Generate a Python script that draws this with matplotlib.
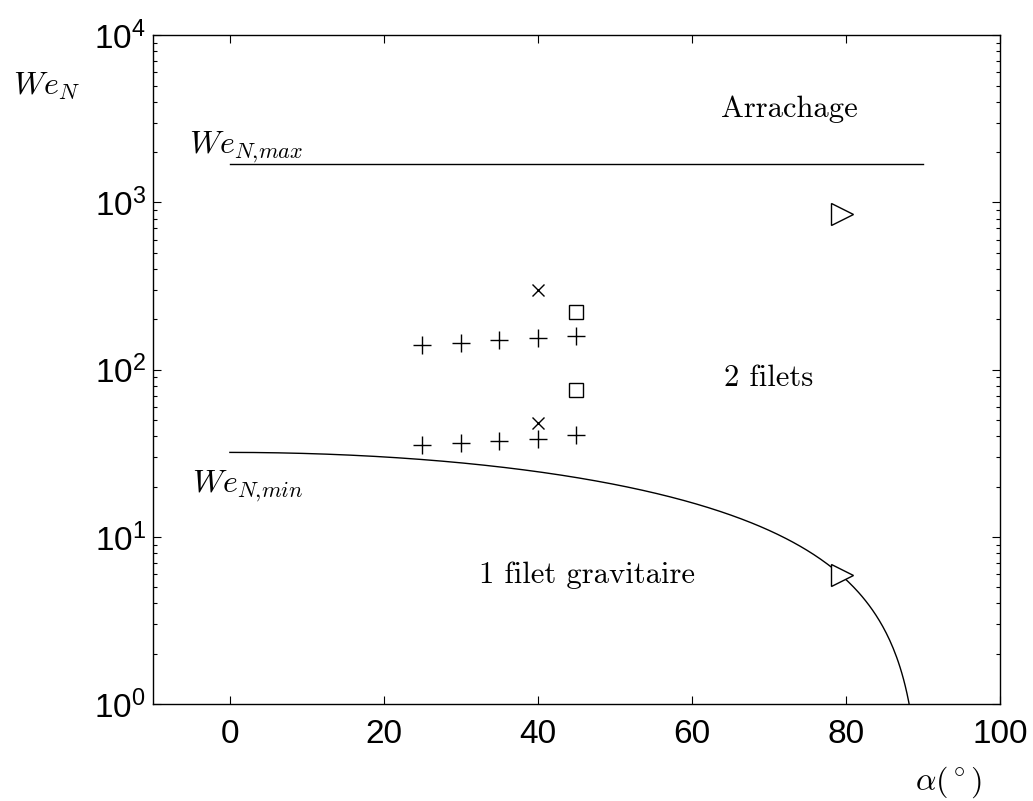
import numpy as np
import matplotlib
matplotlib.use("Agg")
import matplotlib.pyplot as plt
from matplotlib.ticker import LogLocator, NullFormatter, FixedLocator

plt.rcParams["font.family"] = ["Liberation Sans", "DejaVu Sans"]
plt.rcParams["mathtext.fontset"] = "cm"

# Measured regime boundaries and experimental points
alpha_plus = [25, 30, 35, 40, 45]
we_plus_high = [140, 144, 150, 155, 159]
we_plus_low = [35.4, 36.5, 37.5, 38.4, 40.6]

alpha_cross = [40, 40]
we_cross = [299, 48]

alpha_square = [45, 45]
we_square = [222, 75.4]

alpha_tri = [79.5, 79.5]
we_tri = [851, 5.9]

we_max = 1700          # upper limit (tearing off)
we_max_alpha = [0, 90]
we_min0 = 32           # lower limit at alpha = 0, scaled by cos(alpha)

x_ticks = [0, 20, 40, 60, 80, 100]

fig = plt.figure(figsize=(10.33, 8.01), dpi=100)
ax = fig.add_axes([0.148, 0.121, 0.820, 0.835])

# Boundaries
ax.plot(we_max_alpha, [we_max, we_max], color="black", lw=1.0)
alpha_curve = np.linspace(0, 89.5, 400)
ax.plot(alpha_curve, we_min0 * np.cos(np.radians(alpha_curve)), color="black", lw=1.0)

# Data points
mk = dict(linestyle="none", color="black", markerfacecolor="white")
ax.plot(alpha_plus, we_plus_high, marker="+", markersize=13, mew=1.0, **mk)
ax.plot(alpha_plus, we_plus_low, marker="+", markersize=13, mew=1.0, **mk)
ax.plot(alpha_cross, we_cross, marker="x", markersize=8.5, mew=1.0, **mk)
ax.plot(alpha_square, we_square, marker="s", markersize=9.5, mew=1.0, **mk)
ax.plot(alpha_tri, we_tri, marker=">", markersize=16, mew=1.0, **mk)

ax.set_yscale("log")
ax.set_xlim(-10, 100)
ax.set_ylim(1, 1e4)
ax.xaxis.set_major_locator(FixedLocator(x_ticks))
ax.yaxis.set_major_locator(LogLocator(base=10, numticks=10))
ax.yaxis.set_minor_locator(LogLocator(base=10, subs=np.arange(2, 10), numticks=20))
ax.yaxis.set_minor_formatter(NullFormatter())

ax.tick_params(which="both", direction="in", top=True, right=True,
               labelsize=24, width=0.8)
ax.tick_params(which="major", length=6)
ax.tick_params(which="minor", length=3)
ax.tick_params(axis="x", which="major", pad=11)
ax.tick_params(axis="y", which="major", pad=5)
for s in ax.spines.values():
    s.set_linewidth(1.0)

# Region labels
serif = dict(family="cmr10", fontsize=22, ha="center", va="baseline")
ax.text(72.7, 3235, "Arrachage", **serif)
ax.text(69.9, 79.7, "2 filets", **serif)
ax.text(46.4, 5.29, "1 filet gravitaire", **serif)

ax.text(-5.3, 1969, r"$We_{N{,}max}$", fontsize=23, ha="left", va="baseline")
ax.text(-4.9, 18.5, r"$We_{N{,}min}$", fontsize=23, ha="left", va="baseline")

fig.text(13 / 1033, 1 - 95 / 801, r"$We_N$", fontsize=23, ha="left", va="baseline")
fig.text(948 / 1033, 1 - 790 / 801, r"$\alpha(^\circ)$", fontsize=23, ha="center", va="baseline")

fig.savefig("out.png", dpi=100)
